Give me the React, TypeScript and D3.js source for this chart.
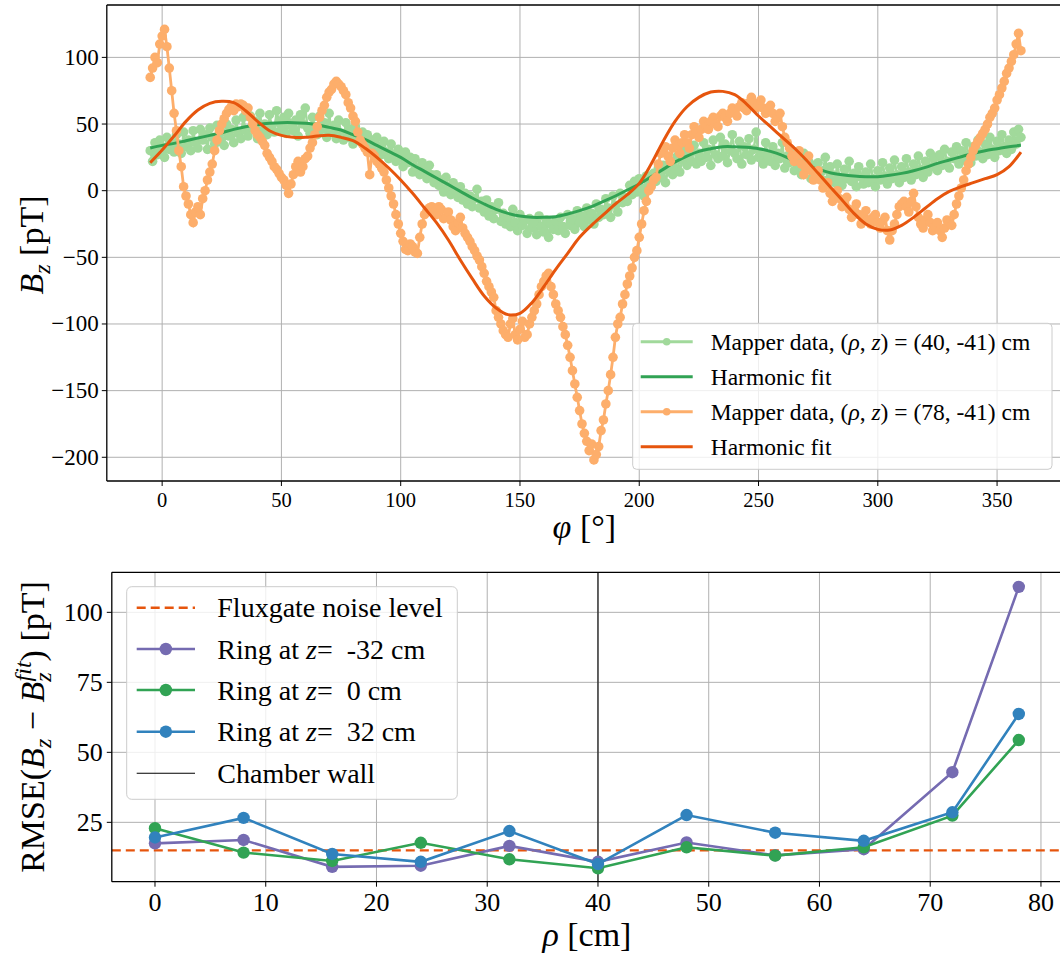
import React from "react";
import * as d3 from "d3";

// ---------- Top panel data (phi in degrees, Bz in pT) ----------
const phiAll = d3.range(-5, 361, 1); // 366 sampling angles
// Mapper data at (rho, z) = (40, -41) cm
const mapperInner = [
  30, 22, 36, 27, 38, 33, 25, 40, 31, 36,
  29, 42, 35, 28, 44, 33, 38, 30, 45, 36,
  32, 46, 38, 42, 31, 47, 40, 35, 49, 37,
  44, 34, 50, 41, 46, 36, 53, 43, 39, 55,
  45, 41, 56, 47, 52, 39, 58, 46, 50, 42,
  57, 48, 44, 60, 51, 46, 55, 43, 58, 49,
  45, 53, 41, 57, 50, 62, 47, 43, 55, 48,
  42, 56, 46, 51, 40, 58, 44, 49, 39, 53,
  43, 38, 51, 40, 46, 35, 48, 41, 37, 44,
  34, 42, 31, 38, 28, 40, 33, 27, 37, 29,
  24, 35, 27, 22, 31, 26, 18, 29, 21, 25,
  14, 24, 17, 12, 21, 15, 9, 19, 12, 6,
  12, 4, 8, -1, 10, 3, -3, 6, 0, -5,
  3, -7, -2, -10, -4, -12, -6, 1, -13, -8,
  -16, -7, -19, -12, -21, -14, -9, -23, -17, -25,
  -20, -27, -14, -24, -30, -18, -26, -22, -32, -21,
  -28, -24, -33, -19, -27, -31, -22, -35, -25, -29,
  -23, -30, -20, -27, -32, -18, -26, -21, -29, -15,
  -24, -19, -27, -13, -22, -17, -25, -10, -20, -14,
  -18, -6, -13, -20, -4, -11, -16, -2, -9, -5,
  -8, 4, -3, 7, -1, 9, 2, -4, 11, 5,
  4, 13, 7, 17, 10, 19, 6, 15, 22, 12,
  17, 26, 14, 23, 31, 19, 27, 22, 34, 20,
  28, 22, 36, 25, 31, 19, 38, 27, 24, 40,
  26, 35, 21, 30, 42, 28, 24, 37, 20, 33,
  27, 39, 23, 31, 44, 25, 29, 20, 36, 26,
  22, 33, 19, 28, 24, 36, 17, 26, 21, 30,
  15, 25, 19, 12, 28, 17, 22, 9, 19, 14,
  21, 9, 15, 25, 8, 18, 12, 6, 20, 10,
  4, 16, 9, 22, 7, 13, 3, 18, 10, 5,
  14, 6, 20, 9, 3, 15, 8, 21, 11, 5,
  17, 9, 23, 12, 6, 18, 10, 24, 14, 8,
  20, 12, 26, 16, 10, 22, 14, 28, 18, 25,
  15, 27, 19, 31, 22, 17, 29, 24, 33, 20,
  30, 23, 36, 27, 21, 33, 26, 38, 29, 24,
  35, 27, 40, 31, 25, 37, 30, 42, 33, 28,
  38, 31, 44, 35, 46, 40,
];
// Mapper data at (rho, z) = (78, -41) cm
const mapperOuter = [
  85, 92, 100, 96, 110, 116, 121, 108, 92, 75,
  58, 45, 30, 18, 3, -4, -10, -18, -24, -16,
  -12, -18, -6, 0, 8, 14, 20, 30, 38, 45,
  50, 54, 58, 61, 63, 60, 65, 63, 65, 64,
  60, 62, 55, 50, 45, 42, 40, 37, 34, 28,
  25, 22, 18, 16, 13, 10, 8, 4, -2, 5,
  12, 18, 22, 14, 18, 24, 26, 32, 36, 42,
  48, 55, 60, 64, 70, 74, 76, 80, 82, 80,
  78, 75, 72, 66, 62, 56, 52, 44, 38, 35,
  32, 29, 12, 28, 26, 22, 20, 17, 14, 8,
  2, -4, -10, -18, -25, -32, -38, -44, -45, -40,
  -42, -46, -47, -35, -25, -18, -15, -13, -12, -16,
  -18, -12, -14, -21, -20, -16, -22, -27, -30, -24,
  -20, -28, -32, -35, -38, -42, -45, -49, -52, -57,
  -62, -68, -72, -76, -80, -90, -95, -100, -105, -108,
  -110, -100, -96, -108, -112, -104, -98, -110, -108, -100,
  -95, -90, -85, -78, -72, -68, -64, -62, -72, -78,
  -85, -90, -95, -102, -108, -116, -125, -135, -145, -155,
  -165, -175, -182, -188, -195, -190, -202, -198, -192, -180,
  -172, -160, -150, -138, -125, -110, -100, -95, -85, -78,
  -70, -64, -58, -50, -45, -35, -25, -15, -8, 0,
  3, 8, 10, 20, 28, 30, 33, 26, 22, 32,
  38, 34, 28, 36, 42, 36, 32, 42, 48, 44,
  40, 46, 52, 48, 46, 52, 55, 50, 48, 56,
  58, 55, 52, 58, 62, 60, 56, 63, 66, 62,
  60, 66, 70, 66, 62, 64, 68, 62, 58, 61,
  64, 58, 52, 55, 58, 48, 40, 36, 32, 26,
  22, 27, 30, 20, 12, 18, 26, 15, 8, 12,
  15, 8, 2, 4, 6, -2, -8, -4, 0, -6,
  -12, -8, -5, -14, -20, -15, -10, -18, -25, -20,
  -15, -22, -25, -20, -18, -24, -28, -23, -20, -30,
  -37, -30, -25, -18, -12, -10, -8, -12, -16, -8,
  -2, -12, -20, -25, -28, -22, -18, -24, -30, -27,
  -24, -30, -35, -28, -22, -24, -26, -18, -10, -4,
  2, 8, 15, 20, 25, 30, 34, 37, 40, 43,
  46, 50, 55, 58, 62, 68, 72, 77, 82, 88,
  92, 97, 102, 110, 118, 105,
];
const fitGrid = d3.range(-5, 361, 5); // 74 angles
const fitInner = [
  32, 34, 35.5, 37.5, 39.5, 41.5, 43.5, 46, 48, 49.5,
  50.5, 51, 51, 50.5, 49.5, 47.5, 45.5, 42, 38.5, 34,
  29.5, 25, 19.5, 14.5, 9.5, 4.5, -0.5, -5.5, -10, -14,
  -17, -19, -20, -20, -19.5, -17.5, -15, -12, -8, -4,
  0.5, 5, 10.5, 16, 21.5, 26, 29.5, 31.5, 33, 33,
  32.5, 31.5, 29.5, 26.5, 22.5, 19, 16, 13.5, 12, 11,
  10.5, 10.5, 11.5, 13, 15, 17.5, 20.5, 23, 25.5, 28,
  30, 31.5, 33, 34,
];
const fitOuter = [
  21, 30.5, 41, 52, 60.5, 65.5, 67, 66, 60, 52,
  45, 41.5, 40, 40, 41, 41.5, 40, 37.5, 32, 25,
  17, 8, -2, -13, -24, -37, -52, -66, -79, -88,
  -93, -92, -84, -72, -59, -47, -35, -26, -18, -10,
  -3, 5.5, 20, 37, 52, 63, 70, 74, 74.5, 72,
  65, 56, 48, 40, 32, 23, 13, 3, -7, -17,
  -25, -29, -29.5, -26, -20, -13, -6, -0.5, 3, 6,
  9, 12, 18, 29,
];
const topXTicks = [0, 50, 100, 150, 200, 250, 300, 350];
const topYTicks = [-200, -150, -100, -50, 0, 50, 100];

// ---------- Bottom panel data ----------
const rhoValues = [0, 8, 16, 24, 32, 40, 48, 56, 64, 72, 78];
const rmseMinus32 = [17.5, 18.7, 9.1, 9.5, 16.6, 10.9, 17.8, 13.2, 15.4, 42.9, 109.1];
const rmseZero = [22.9, 14.2, 11.2, 17.7, 11.8, 8.6, 16.1, 13.1, 16.1, 27.4, 54.4];
const rmsePlus32 = [19.6, 26.6, 13.7, 10.9, 21.9, 10.1, 27.6, 21.3, 18.4, 28.6, 63.7];
const noiseLevel = 15;
const chamberWall = 40;
const botXTicks = [0, 10, 20, 30, 40, 50, 60, 70, 80];
const botYTicks = [25, 50, 75, 100];

const C = {
  lightGreen: "#a1d99b",
  green: "#31a354",
  lightOrange: "#fdae6b",
  orange: "#e6550d",
  purple: "#756bb1",
  blue: "#3182bd",
  grid: "#b0b0b0",
};
const FONT = '"Liberation Serif", "Times New Roman", "DejaVu Serif", serif';
const fmt = (v: number) => (v < 0 ? "\u2212" + Math.abs(v) : String(v));

export default function App() {
  const T = { l: 106.8, r: 1065.3, t: 5, b: 481 };
  const xT = d3.scaleLinear().domain([-23.2, 378.6]).range([T.l, T.r]);
  const yT = d3.scaleLinear().domain([-217.8, 139.3]).range([T.b, T.t]);
  const B = { l: 111.8, r: 1062, t: 572.3, b: 881.7 };
  const xB = d3.scaleLinear().domain([-3.9, 81.9]).range([B.l, B.r]);
  const yB = d3.scaleLinear().domain([3.8, 114.3]).range([B.b, B.t]);

  const dataLine = (vals: number[]) =>
    d3.line<number>().x((_, i) => xT(phiAll[i])).y((d) => yT(d))(vals) || "";
  const fitLine = (vals: number[]) =>
    d3
      .line<number>()
      .x((_, i) => xT(fitGrid[i]))
      .y((d) => yT(d))
      .curve(d3.curveCatmullRom)(vals) || "";
  const rmseLine = (vals: number[]) =>
    d3.line<number>().x((_, i) => xB(rhoValues[i])).y((d) => yB(d))(vals) || "";

  const series = [
    { vals: rmseMinus32, color: C.purple },
    { vals: rmseZero, color: C.green },
    { vals: rmsePlus32, color: C.blue },
  ];

  const tl = { x: 632.7, y: 323.3, w: 419.3, h: 146, hx0: 640.7, hx1: 692.7, tx: 710.7 };
  const tlRows = [341.7, 376.7, 411.7, 446.7];
  const bl = { x: 126.7, y: 586.7, w: 330.6, h: 212.6, hx0: 136.7, hx1: 195, tx: 217.3 };
  const blRows = [607.7, 649, 690, 731.7, 773.3];

  return (
    <svg
      width={1060}
      height={956}
      style={{ position: "absolute", left: 0, top: 0, background: "#fff" }}
      fontFamily={FONT}
    >
      <defs>
        <clipPath id="clipTop">
          <rect x={T.l} y={T.t} width={T.r - T.l} height={T.b - T.t} />
        </clipPath>
        <clipPath id="clipBot">
          <rect x={B.l} y={B.t} width={B.r - B.l} height={B.b - B.t} />
        </clipPath>
      </defs>
      <rect x={0} y={0} width={1060} height={956} fill="#fff" />

      {/* ================= TOP PANEL ================= */}
      <g>
        {topXTicks.map((t) => (
          <line key={"gx" + t} x1={xT(t)} x2={xT(t)} y1={T.t} y2={T.b} stroke={C.grid} strokeWidth={1} />
        ))}
        {topYTicks.map((t) => (
          <line key={"gy" + t} x1={T.l} x2={T.r} y1={yT(t)} y2={yT(t)} stroke={C.grid} strokeWidth={1} />
        ))}
        <g clipPath="url(#clipTop)">
          <path d={dataLine(mapperInner)} fill="none" stroke={C.lightGreen} strokeWidth={2.4} />
          {mapperInner.map((v, i) => (
            <circle key={"gi" + i} cx={xT(phiAll[i])} cy={yT(v)} r={4.8} fill={C.lightGreen} />
          ))}
          <path d={fitLine(fitInner)} fill="none" stroke={C.green} strokeWidth={3} />
          <path d={dataLine(mapperOuter)} fill="none" stroke={C.lightOrange} strokeWidth={2.8} />
          {mapperOuter.map((v, i) => (
            <circle key={"go" + i} cx={xT(phiAll[i])} cy={yT(v)} r={4.8} fill={C.lightOrange} />
          ))}
          <path d={fitLine(fitOuter)} fill="none" stroke={C.orange} strokeWidth={3} />
        </g>
        <line x1={T.l} x2={T.l} y1={T.t} y2={T.b} stroke="#000" strokeWidth={1.3} />
        <line x1={T.l} x2={T.r} y1={T.b} y2={T.b} stroke="#000" strokeWidth={1.3} />
        <line x1={T.l} x2={T.r} y1={T.t} y2={T.t} stroke="#000" strokeWidth={1.3} />
        <line x1={T.r} x2={T.r} y1={T.t} y2={T.b} stroke="#000" strokeWidth={1.3} />
        {topXTicks.map((t) => (
          <g key={"tx" + t}>
            <line x1={xT(t)} x2={xT(t)} y1={T.b} y2={T.b + 5} stroke="#000" strokeWidth={1} />
            <text x={xT(t)} y={506.5} fontSize={20.5} textAnchor="middle" fill="#000">
              {fmt(t)}
            </text>
          </g>
        ))}
        {topYTicks.map((t) => (
          <g key={"ty" + t}>
            <line x1={T.l - 5} x2={T.l} y1={yT(t)} y2={yT(t)} stroke="#000" strokeWidth={1} />
            <text x={T.l - 8} y={yT(t) + 7.5} fontSize={23} textAnchor="end" fill="#000">
              {fmt(t)}
            </text>
          </g>
        ))}
        <text x={(T.l + 1062) / 2} y={538} fontSize={34} textAnchor="middle" fill="#000">
          <tspan fontStyle="italic">φ</tspan>
          <tspan> [°]</tspan>
        </text>
        <text transform={`translate(43, 245) rotate(-90)`} fontSize={34} textAnchor="middle" fill="#000">
          <tspan fontStyle="italic">B</tspan>
          <tspan fontStyle="italic" fontSize={24} dy={7}>z</tspan>
          <tspan dy={-7}> [pT]</tspan>
        </text>

        {/* legend */}
        <rect x={tl.x} y={tl.y} width={tl.w} height={tl.h} rx={4} fill="#fff" fillOpacity={0.8} stroke="#cccccc" strokeWidth={1} />
        {[
          { c: C.lightGreen, marker: true },
          { c: C.green, marker: false },
          { c: C.lightOrange, marker: true },
          { c: C.orange, marker: false },
        ].map((h, i) => (
          <g key={"tlh" + i}>
            <line x1={tl.hx0} x2={tl.hx1} y1={tlRows[i]} y2={tlRows[i]} stroke={h.c} strokeWidth={3} />
            {h.marker && <circle cx={(tl.hx0 + tl.hx1) / 2} cy={tlRows[i]} r={3.8} fill={h.c} />}
          </g>
        ))}
        {[0, 2].map((i) => (
          <text key={"tlt" + i} x={tl.tx} y={tlRows[i] + 8} fontSize={23.5} fill="#000">
            <tspan>Mapper data, (</tspan>
            <tspan fontStyle="italic">ρ</tspan>
            <tspan>, </tspan>
            <tspan fontStyle="italic">z</tspan>
            <tspan>{`) = (${i === 0 ? "40" : "78"}, -41) cm`}</tspan>
          </text>
        ))}
        {[1, 3].map((i) => (
          <text key={"tlf" + i} x={tl.tx} y={tlRows[i] + 8} fontSize={23.5} fill="#000">
            Harmonic fit
          </text>
        ))}
      </g>

      {/* ================= BOTTOM PANEL ================= */}
      <g>
        {botXTicks.map((t) => (
          <line key={"bgx" + t} x1={xB(t)} x2={xB(t)} y1={B.t} y2={B.b} stroke={C.grid} strokeWidth={1} />
        ))}
        {botYTicks.map((t) => (
          <line key={"bgy" + t} x1={B.l} x2={B.r} y1={yB(t)} y2={yB(t)} stroke={C.grid} strokeWidth={1} />
        ))}
        <g clipPath="url(#clipBot)">
          <line x1={B.l} x2={B.r} y1={yB(noiseLevel)} y2={yB(noiseLevel)} stroke={C.orange} strokeWidth={2.4} strokeDasharray="9,5" />
          <line x1={xB(chamberWall)} x2={xB(chamberWall)} y1={B.t} y2={B.b} stroke="#000" strokeWidth={1.1} />
          {series.map((s, si) => (
            <g key={"s" + si}>
              <path d={rmseLine(s.vals)} fill="none" stroke={s.color} strokeWidth={2.6} />
              {s.vals.map((v, i) => (
                <circle key={i} cx={xB(rhoValues[i])} cy={yB(v)} r={6.2} fill={s.color} />
              ))}
            </g>
          ))}
        </g>
        <line x1={B.l} x2={B.l} y1={B.t} y2={B.b} stroke="#000" strokeWidth={1.3} />
        <line x1={B.l} x2={B.r} y1={B.b} y2={B.b} stroke="#000" strokeWidth={1.3} />
        <line x1={B.l} x2={B.r} y1={B.t} y2={B.t} stroke="#000" strokeWidth={1.3} />
        <line x1={B.r} x2={B.r} y1={B.t} y2={B.b} stroke="#000" strokeWidth={1.3} />
        {botXTicks.map((t) => (
          <g key={"bx" + t}>
            <line x1={xB(t)} x2={xB(t)} y1={B.b} y2={B.b + 5} stroke="#000" strokeWidth={1} />
            <text x={xB(t)} y={911} fontSize={26} textAnchor="middle" fill="#000">
              {fmt(t)}
            </text>
          </g>
        ))}
        {botYTicks.map((t) => (
          <g key={"by" + t}>
            <line x1={B.l - 5} x2={B.l} y1={yB(t)} y2={yB(t)} stroke="#000" strokeWidth={1} />
            <text x={B.l - 9} y={yB(t) + 8.5} fontSize={26} textAnchor="end" fill="#000">
              {fmt(t)}
            </text>
          </g>
        ))}
        <text x={(B.l + 1062) / 2} y={946} fontSize={34} textAnchor="middle" fill="#000">
          <tspan fontStyle="italic">ρ</tspan>
          <tspan> [cm]</tspan>
        </text>
        <text transform={`translate(44, 727) rotate(-90)`} fontSize={34} textAnchor="middle" fill="#000">
          <tspan>RMSE(</tspan>
          <tspan fontStyle="italic">B</tspan>
          <tspan fontStyle="italic" fontSize={24} dy={7}>z</tspan>
          <tspan dy={-7}> − </tspan>
          <tspan fontStyle="italic">B</tspan>
          <tspan fontStyle="italic" fontSize={24} dy={7}>z</tspan>
          <tspan fontStyle="italic" fontSize={24} dx={-9} dy={-20}>fit</tspan>
          <tspan dy={13}>) [pT]</tspan>
        </text>

        {/* legend */}
        <rect x={bl.x} y={bl.y} width={bl.w} height={bl.h} rx={5} fill="#fff" fillOpacity={0.8} stroke="#cccccc" strokeWidth={1} />
        <line x1={bl.hx0} x2={bl.hx1} y1={blRows[0]} y2={blRows[0]} stroke={C.orange} strokeWidth={2.4} strokeDasharray="9,5" />
        {series.map((s, si) => (
          <g key={"blh" + si}>
            <line x1={bl.hx0} x2={bl.hx1} y1={blRows[si + 1]} y2={blRows[si + 1]} stroke={s.color} strokeWidth={2.6} />
            <circle cx={(bl.hx0 + bl.hx1) / 2} cy={blRows[si + 1]} r={6.2} fill={s.color} />
          </g>
        ))}
        <line x1={bl.hx0} x2={bl.hx1} y1={blRows[4]} y2={blRows[4]} stroke="#000" strokeWidth={1.1} />
        <text x={bl.tx} y={blRows[0] + 9.5} fontSize={28} fill="#000">Fluxgate noise level</text>
        {["-32", "0", "32"].map((z, i) => (
          <text key={"blt" + i} x={bl.tx} y={blRows[i + 1] + 9.5} fontSize={28} fill="#000">
            <tspan>Ring at </tspan>
            <tspan fontStyle="italic">z</tspan>
            <tspan>{`= \u00a0${z} cm`}</tspan>
          </text>
        ))}
        <text x={bl.tx} y={blRows[4] + 9.5} fontSize={28} fill="#000">Chamber wall</text>
      </g>
    </svg>
  );
}
